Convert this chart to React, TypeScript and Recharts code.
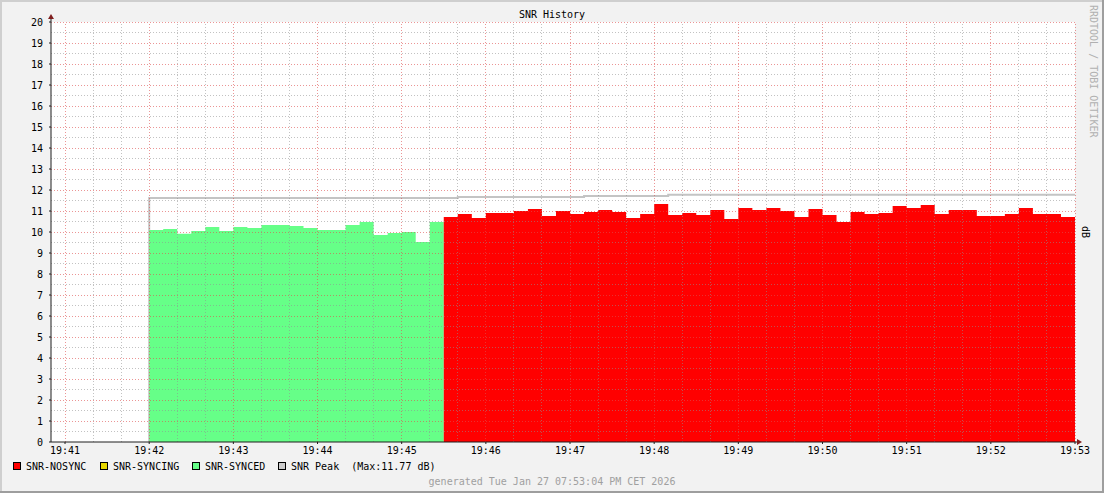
import React from 'react';
import { ComposedChart, Area, Line, XAxis, YAxis, CartesianGrid, ReferenceLine } from 'recharts';

// RRD samples, 10 s step; each value covers the 10 s before its timestamp
const syncedStart = '19:42:00';
const syncedSnr = [
  10.1, 10.14, 9.92, 10.05, 10.24, 10.05, 10.24, 10.19, 10.33, 10.33, 10.29,
  10.19, 10.1, 10.1, 10.33, 10.48, 9.86, 9.95, 10.0, 9.52, 10.48,
];
const nosyncStart = '19:45:30';
const nosyncSnr = [
  10.71, 10.86, 10.67, 10.9, 10.9, 11.0, 11.1, 10.76, 11.0, 10.86, 10.95, 11.05,
  10.95, 10.67, 10.86, 11.33, 10.81, 10.9, 10.81, 11.05, 10.62, 11.14, 11.05,
  11.14, 11.0, 10.71, 11.1, 10.81, 10.48, 10.95, 10.86, 10.9, 11.24, 11.14,
  11.29, 10.86, 11.05, 11.05, 10.76, 10.76, 10.86, 11.14, 10.86, 10.86, 10.71,
];
// peak is a running max, only changes at a few points
const peakTimes = ['19:42:00', '19:45:40', '19:47:10', '19:48:10', '19:53:00'];
const peakSnr = [11.62, 11.67, 11.71, 11.77, 11.77];

const xTickLabels = [
  '19:41', '19:42', '19:43', '19:44', '19:45', '19:46', '19:47',
  '19:48', '19:49', '19:50', '19:51', '19:52', '19:53',
];
const yTicks = [0, 1, 2, 3, 4, 5, 6, 7, 8, 9, 10, 11, 12, 13, 14, 15, 16, 17, 18, 19, 20];

const legendItems = [
  { label: 'SNR-NOSYNC', color: '#ff0000' },
  { label: 'SNR-SYNCING', color: '#e8d800' },
  { label: 'SNR-SYNCED', color: '#66ff88' },
  { label: 'SNR Peak  (Max:11.77 dB)', color: '#cccccc' },
];

const STEP = 10;
const mono = '"DejaVu Sans Mono", monospace';
const minorGrid = 'rgba(143,143,143,0.55)';
const majorGrid = 'rgba(222,79,79,0.6)';

const toSec = (s: string) => {
  const [h, m, sec] = s.split(':').map(Number);
  return h * 3600 + m * 60 + (sec || 0);
};
const fmt = (t: number) => {
  const h = Math.floor(t / 3600);
  const m = Math.floor((t % 3600) / 60);
  return `${h}:${String(m).padStart(2, '0')}`;
};

const xMin = toSec('19:40:50');
const xMax = toSec('19:53:00');
const xTicks = xTickLabels.map(toSec);

const series = (start: string, values: number[]) => [
  { t: toSec(start), snr: 0 },
  ...values.map((v, i) => ({ t: toSec(start) + (i + 1) * STEP, snr: v })),
];
const syncedData = series(syncedStart, syncedSnr);
const nosyncData = series(nosyncStart, nosyncSnr);
const peakData = [
  { t: toSec(peakTimes[0]), snr: 0 },
  ...peakTimes.map((t, i) => ({ t: toSec(t), snr: peakSnr[i] })),
];

// grid: majors on ticks, minors every 0.5 dB / 20 s
const minorY: number[] = [];
for (let v = 0.5; v < 20; v += 1) minorY.push(v);
const minorX: number[] = [];
for (let t = Math.ceil(xMin / 20) * 20; t <= xMax; t += 20) {
  if (t % 60 !== 0) minorX.push(t);
}

// dotted grid line drawn on top of the areas, like rrdtool does
const dotted = (color: string) => (p: any) => (
  <line
    x1={p.x1}
    y1={p.y1}
    x2={p.x2}
    y2={p.y2}
    stroke={color}
    strokeWidth={1}
    strokeDasharray="1 2"
    shapeRendering="crispEdges"
  />
);
const minorShape = dotted(minorGrid);
const majorShape = dotted(majorGrid);

export default function App() {
  return (
    <div style={{ position: 'absolute', left: 0, top: 0, width: 1104, height: 493, background: '#f2f2f2' }}>
      <ComposedChart
        width={1104}
        height={493}
        margin={{ top: 22, right: 29, bottom: 21, left: 11 }}
      >
        <CartesianGrid horizontal={false} vertical={false} fill="#ffffff" />
        <XAxis
          type="number"
          dataKey="t"
          domain={[xMin, xMax]}
          ticks={xTicks}
          tickFormatter={fmt}
          allowDataOverflow
          height={30}
          stroke="#1f1f1f"
          tickSize={2}
          tickMargin={3}
          tick={{ fontFamily: mono, fontSize: 10, fill: '#000' }}
        />
        <YAxis
          type="number"
          domain={[0, 20]}
          ticks={yTicks}
          allowDataOverflow
          width={40}
          stroke="#1f1f1f"
          tickSize={2}
          tickMargin={6}
          tick={{ fontFamily: mono, fontSize: 10, fill: '#000' }}
        />
        <Line
          data={peakData}
          dataKey="snr"
          type="stepAfter"
          stroke="#c4c4c4"
          strokeWidth={2}
          dot={false}
          isAnimationActive={false}
          {...({ zIndex: 50 } as any)}
        />
        <Area
          data={syncedData}
          dataKey="snr"
          type="stepBefore"
          fill="#66ff88"
          fillOpacity={1}
          stroke="none"
          isAnimationActive={false}
        />
        <Area
          data={nosyncData}
          dataKey="snr"
          type="stepBefore"
          fill="#ff0000"
          fillOpacity={1}
          stroke="none"
          isAnimationActive={false}
        />
        {minorY.map((v) => (
          <ReferenceLine key={`my${v}`} y={v} shape={minorShape} {...({ zIndex: 450 } as any)} />
        ))}
        {minorX.map((t) => (
          <ReferenceLine key={`mx${t}`} x={t} shape={minorShape} {...({ zIndex: 450 } as any)} />
        ))}
        {yTicks.slice(1).map((v) => (
          <ReferenceLine key={`My${v}`} y={v} shape={majorShape} {...({ zIndex: 460 } as any)} />
        ))}
        {xTicks.map((t) => (
          <ReferenceLine key={`Mx${t}`} x={t} shape={majorShape} {...({ zIndex: 460 } as any)} />
        ))}
      </ComposedChart>

      <svg
        width={1104}
        height={493}
        style={{ position: 'absolute', left: 0, top: 0, pointerEvents: 'none' }}
        fontFamily={mono}
        fontSize={10}
      >
        {/* frame */}
        <rect x={0} y={0} width={1104} height={2} fill="#cfcfcf" />
        <rect x={0} y={0} width={2} height={493} fill="#cfcfcf" />
        <rect x={1102} y={0} width={2} height={493} fill="#9e9e9e" />
        <rect x={0} y={491} width={1104} height={2} fill="#9e9e9e" />

        {/* axis arrows */}
        <line x1={51} y1={22} x2={51} y2={17} stroke="#1f1f1f" />
        <polygon points="48,19 54,19 51,14" fill="#801f1f" />
        <line x1={1075} y1={442} x2={1078} y2={442} stroke="#1f1f1f" />
        <polygon points="1077,439 1077,445 1082,442" fill="#801f1f" />

        <text x={552} y={18} textAnchor="middle" fill="#000">SNR History</text>
        <text x={1090} y={5} transform="rotate(90 1090 5)" fill="#b0b0b0">RRDTOOL / TOBI OETIKER</text>
        <text x={1082} y={232} transform="rotate(90 1082 232)" textAnchor="middle" fill="#000">dB</text>

        {legendItems.map((it, i) => {
          const x = [13, 100, 192, 278][i];
          return (
            <g key={it.label}>
              <rect x={x + 0.5} y={462.5} width={7} height={7} fill={it.color} stroke="#000" />
              <text x={x + 13} y={469.5} fill="#000" style={{ whiteSpace: 'pre' }}>{it.label}</text>
            </g>
          );
        })}
        <text x={552} y={484.5} textAnchor="middle" fill="#a0a0a0">
          generated Tue Jan 27 07:53:04 PM CET 2026
        </text>
      </svg>
    </div>
  );
}
